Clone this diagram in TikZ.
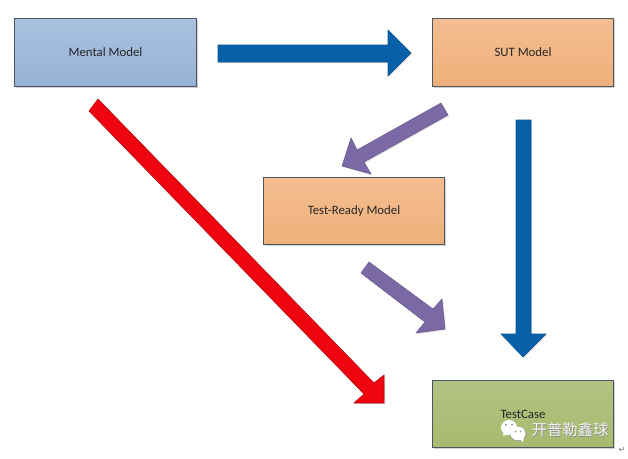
\documentclass[tikz,border=0pt]{standalone}
\usepackage{fontspec}
\setmainfont{Carlito}
\newfontfamily\cjkwm{Noto Sans CJK SC}
\newfontfamily\dejavu{DejaVu Sans}
\usetikzlibrary{shadows}
\definecolor{bluetop}{HTML}{A9C1DF}
\definecolor{bluebot}{HTML}{96B3D5}
\definecolor{orangetop}{HTML}{F4BD90}
\definecolor{orangebot}{HTML}{EEB07A}
\definecolor{greentop}{HTML}{B2C283}
\definecolor{greenbot}{HTML}{A8BA6E}
\definecolor{boxline}{HTML}{4E5560}
\definecolor{arrowblue}{HTML}{0860A8}
\definecolor{arrowred}{HTML}{EE0510}
\definecolor{arrowpurple}{HTML}{7B69A6}
\tikzset{
  x=0.75pt,y=-0.75pt,
  modelbox/.style={draw=boxline,line width=0.75pt,minimum width=136pt,minimum height=50.5pt,
    inner sep=0pt,font=\fontsize{9.6pt}{11pt}\selectfont,text=black!85,
    drop shadow={shadow xshift=1.2pt,shadow yshift=-1.2pt,opacity=0.18,fill=black}},
  bluebox/.style={modelbox,top color=bluetop,bottom color=bluebot},
  orangebox/.style={modelbox,top color=orangetop,bottom color=orangebot},
  greenbox/.style={modelbox,top color=greentop,bottom color=greenbot},
  blockblue/.style={fill=arrowblue,draw=arrowblue!85!black,line width=0.4pt,line join=miter,
    drop shadow={shadow xshift=0.8pt,shadow yshift=-0.8pt,opacity=0.12,fill=black}},
  blockred/.style={fill=arrowred,draw=arrowred!75!black,line width=0.4pt,line join=miter,
    drop shadow={shadow xshift=0.8pt,shadow yshift=-0.8pt,opacity=0.12,fill=black}},
  blockpurple/.style={fill=arrowpurple,draw=arrowpurple!85!black,line width=0.4pt,line join=miter,
    drop shadow={shadow xshift=0.8pt,shadow yshift=-0.8pt,opacity=0.12,fill=black}},
}
\begin{document}
\begin{tikzpicture}
\useasboundingbox (0,0) rectangle (628,458);
\fill[white] (0,0) rectangle (628,458);
\node[bluebox] (mental) at (105.5,52.5) {Mental Model};
\node[orangebox] (sut) at (523,52.5) {SUT Model};
\node[orangebox] (ready) at (354,211) {Test-Ready Model};
\node[greenbox] (case) at (523,414) {TestCase};
% block arrows
\path[blockblue] (218,45) -- (388,45) -- (388,30) -- (411,53) -- (388,76) -- (388,62) -- (218,62) -- cycle;
\path[blockblue] (516,120) -- (531,120) -- (531,334) -- (546,334) -- (523,357) -- (501,334) -- (516,334) -- cycle;
\path[blockred] (98,99) -- (374,383) -- (384,375) -- (384,403) -- (354,403) -- (364,394) -- (89,111) -- cycle;
\path[blockpurple] (441,103) -- (448,115) -- (364,162) -- (371,174) -- (342,166) -- (351,138) -- (357,150) -- cycle;
\path[blockpurple] (369,262) -- (433,309) -- (442,299) -- (445,329) -- (416,333) -- (425,322) -- (361,273) -- cycle;
% watermark
\fill[black!40] (509.5,428) ellipse (8 and 7.5);
\fill[white] (509,427.5) ellipse (8 and 7.5);
\fill[white] (503,436) -- (504,431) -- (508,434) -- cycle;
\fill[black!40] (518.5,434) ellipse (8 and 7);
\fill[white] (518,433.5) ellipse (7.5 and 6.8);
\fill[white] (523,442) -- (524,437) -- (520,439.5) -- cycle;
\fill[black!45] (506,424.5) circle (1) (512,424.5) circle (1) (515.5,431.5) circle (0.8) (520.5,431.5) circle (0.8);
\node[font=\cjkwm\fontsize{11.5pt}{13pt}\selectfont,text=black!45,inner sep=0pt] (wmshadow) at (570.6,430.6) {开普勒鑫球};
\node[font=\cjkwm\fontsize{11.5pt}{13pt}\selectfont,text=white!95!black,inner sep=0pt] (wm) at (570,430) {开普勒鑫球};
\node[font=\dejavu\fontsize{6pt}{7pt}\selectfont,text=black!55,inner sep=0pt] (ret) at (622,449.5) {↵};
\end{tikzpicture}
\end{document}
